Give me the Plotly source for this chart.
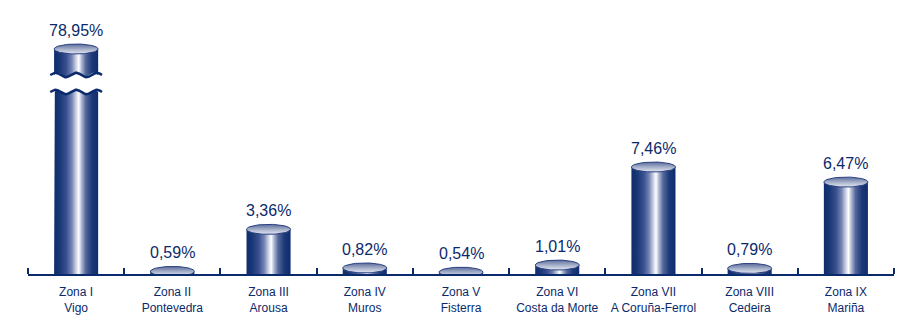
import numpy as np
import plotly.graph_objects as go

# Participación por zona (%)
zonas = ["Zona I", "Zona II", "Zona III", "Zona IV", "Zona V",
         "Zona VI", "Zona VII", "Zona VIII", "Zona IX"]
lugares = ["Vigo", "Pontevedra", "Arousa", "Muros", "Fisterra",
           "Costa da Morte", "A Coruña-Ferrol", "Cedeira", "Mariña"]
porcentajes = [78.95, 0.59, 3.36, 0.82, 0.54, 1.01, 7.46, 0.79, 6.47]

NAVY = "#0b2a6b"
W, H = 904, 331
M_L, M_R, M_T, M_B = 28, 10, 20, 57
PLOT_H = H - M_T - M_B
PX = 15.2                      # pixels per percentage point
FLOOR = 6.4 / PX               # the front edge of the floor sits above zero
LOWER_TOP_PX = 190             # height of the lower panel (px)
UPPER_GAP_PX = 192             # upper panel starts this far above the base
HW = 0.229                     # half bar width (category units)
EH = 5.0 / PX                  # half height of the top ellipse
AMP = 2.2 / PX                 # amplitude of the break wave

lower_lo = FLOOR
lower_hi = lower_lo + LOWER_TOP_PX / PX
d_low = LOWER_TOP_PX / PLOT_H
d_up = UPPER_GAP_PX / PLOT_H
big = max(porcentajes)
upper_lo = big - 33.0 / PX
upper_hi = upper_lo + (PLOT_H - UPPER_GAP_PX) / PX

body_scale = [
    [0.00, "#0e2d6e"], [0.12, "#173674"], [0.28, "#3a5090"],
    [0.40, "#7484b2"], [0.50, "#cdd4e6"], [0.56, "#ffffff"],
    [0.62, "#b2bcd6"], [0.72, "#52669a"], [0.86, "#1c3878"],
    [1.00, "#0e2d6e"],
]
top_scale = [[0.0, "#e2e6f0"], [0.45, "#aab4cc"], [1.0, "#5d6d9c"]]

fig = go.Figure()


def wave(i, y0, n=60, ext=0.0):
    u = np.linspace(0, 1, n)
    xs = (i - HW - ext) + u * 2 * (HW + ext)
    ys = y0 + AMP * np.sin(2 * np.pi * 2.5 * u)
    return xs, ys


def body(xs, ys, yaxis):
    fig.add_trace(go.Scatter(
        x=xs, y=ys, mode="lines", fill="toself", line=dict(width=0),
        fillgradient=dict(type="horizontal", colorscale=body_scale),
        xaxis="x" if yaxis == "y" else "x2", yaxis=yaxis,
        hoverinfo="skip", showlegend=False))


def top(i, v, yaxis):
    t = np.linspace(0, 2 * np.pi, 73)
    fig.add_trace(go.Scatter(
        x=i + HW * np.cos(t), y=v + EH * np.sin(t), mode="lines",
        fill="toself", line=dict(width=1, color="#2a4080"),
        fillgradient=dict(type="vertical", colorscale=top_scale),
        xaxis="x" if yaxis == "y" else "x2", yaxis=yaxis,
        hoverinfo="skip", showlegend=False))


for i, v in enumerate(porcentajes):
    if v <= lower_hi:
        body([i - HW, i - HW, i + HW, i + HW, i - HW], [0, v, v, 0, 0], "y")
        top(i, v, "y")
        yref = "y"
    else:
        # lower piece, cut by a wavy edge
        w_lo = lower_hi - 8.0 / PX
        wx, wy = wave(i, w_lo)
        body(np.concatenate([[i - HW], wx, [i + HW, i - HW]]),
             np.concatenate([[0], wy, [0, 0]]), "y")
        lx, ly = wave(i, w_lo, ext=0.04)
        fig.add_trace(go.Scatter(x=lx, y=ly, mode="lines",
                                 line=dict(color=NAVY, width=2.5),
                                 hoverinfo="skip", showlegend=False))
        # upper piece
        w_up = upper_lo + 7.0 / PX
        wx, wy = wave(i, w_up)
        body(np.concatenate([[i - HW, i + HW], wx[::-1], [i - HW]]),
             np.concatenate([[v, v], wy[::-1], [v]]), "y2")
        lx, ly = wave(i, w_up, ext=0.04)
        fig.add_trace(go.Scatter(x=lx, y=ly, mode="lines",
                                 line=dict(color=NAVY, width=2.5),
                                 xaxis="x2", yaxis="y2",
                                 hoverinfo="skip", showlegend=False))
        top(i, v, "y2")
        yref = "y2"
    fig.add_annotation(
        x=i, y=v, xref="x" if yref == "y" else "x2", yref=yref,
        text=f"{v:.2f}".replace(".", ",") + "%", showarrow=False,
        yanchor="bottom", yshift=8,
        font=dict(family="Liberation Sans, Arial, sans-serif", size=16, color=NAVY))

ticktext = [f"{z}<br>{l}" for z, l in zip(zonas, lugares)]

fig.update_layout(
    width=W, height=H,
    margin=dict(l=M_L, r=M_R, t=M_T, b=M_B),
    paper_bgcolor="white", plot_bgcolor="white",
    showlegend=False,
    xaxis=dict(
        domain=[0, 1], range=[-0.5, len(zonas) - 0.5], anchor="y",
        tickvals=list(range(len(zonas))), ticktext=ticktext, ticks="",
        ticklabelstandoff=6,
        tickfont=dict(family="Liberation Sans, Arial, sans-serif", size=12, color=NAVY),
        showline=True, linecolor=NAVY, linewidth=2,
        showgrid=False, zeroline=False, fixedrange=True,
        minor=dict(tickvals=[k - 0.5 for k in range(len(zonas) + 1)],
                   ticks="inside", ticklen=6, tickwidth=2, tickcolor=NAVY,
                   showgrid=False),
    ),
    xaxis2=dict(domain=[0, 1], matches="x", anchor="y2", visible=False,
                fixedrange=True),
    yaxis=dict(domain=[0, d_low], range=[lower_lo, lower_hi], visible=False,
               fixedrange=True, anchor="x"),
    yaxis2=dict(domain=[d_up, 1], range=[upper_lo, upper_hi], visible=False,
                fixedrange=True, anchor="x2"),
)

fig.write_html("out.html")
